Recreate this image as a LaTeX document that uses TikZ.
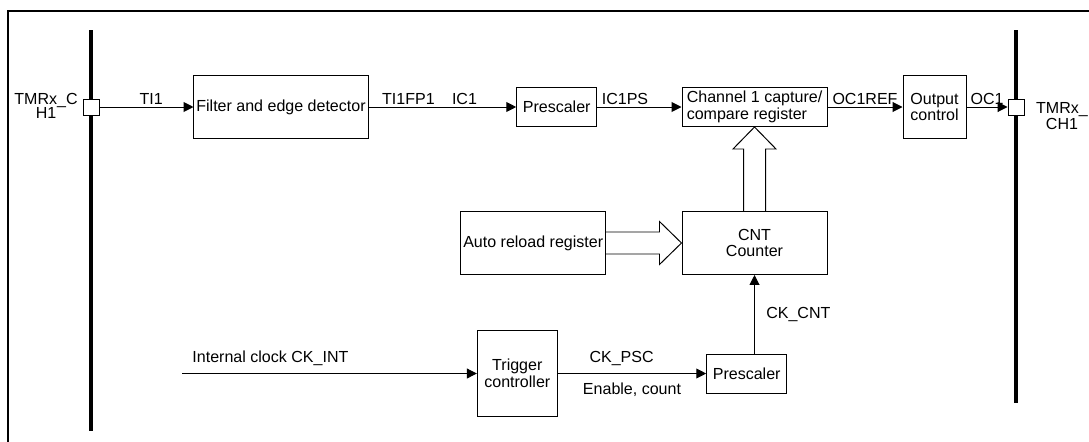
\documentclass[tikz,border=0pt]{standalone}
\usepackage{fontspec}
\setmainfont{Liberation Sans}
\usetikzlibrary{arrows.meta,positioning,calc}

\begin{document}
\begin{tikzpicture}[x=0.025cm,y=-0.025cm,>={Triangle[length=7pt,width=7pt]},
   line width=0.7pt,font=\fontsize{11.4}{12}\selectfont,
   blk/.style={draw,inner sep=1pt,align=center},
   pin/.style={draw,fill=white,minimum size=0.4cm,inner sep=0pt},
   lbl/.style={inner sep=1.5pt},
   bar/.style={line width=2.2pt},
   fat/.style={draw,line join=miter}]
  \useasboundingbox (0,0) rectangle (1089,441);
  \draw[line width=1.1pt] (8,11) rectangle (1110,470);
  % pins
  \draw[bar] (91,30) -- (91,431);
  \draw[bar] (1016,30) -- (1016,403);
  \node[pin] (pinL) at (91,107) {};
  \node[pin] (pinR) at (1016,107) {};
  \node[align=center] (pinLtxt) at (46,106) {TMRx\_C\\[-2pt]H1};
  \node[align=center] (pinRtxt) at (1062,116) {TMRx\_\\CH1};
  % upper path
  \node[blk,minimum width=4.35cm,minimum height=1.575cm] (filt) at (281,107) {Filter and edge detector};
  \node[blk,minimum width=2cm,minimum height=0.975cm] (psc1) at (556.7,107) {Prescaler};
  \node[blk,minimum width=3.625cm,minimum height=0.975cm,align=left] (ccr) at (754.5,107) {Channel 1 capture/\\compare register};
  \node[blk,minimum width=1.575cm,minimum height=1.565cm] (outc) at (934.5,107) {Output\\control};
  \draw[->] (pinL) -- (filt) node[lbl,pos=0.55,above]{TI1};
  \draw[->] (filt) -- (psc1) node[lbl,pos=0.27,above]{TI1FP1} node[lbl,pos=0.65,above]{IC1};
  \draw[->] (psc1) -- (ccr) node[lbl,pos=0.33,above]{IC1PS};
  \draw[->] (ccr) -- (outc) node[lbl,midway,above]{OC1REF};
  \draw[->] (outc) -- (pinR) node[lbl,midway,above]{OC1};
  % counter
  \node[blk,minimum width=3.625cm,minimum height=1.575cm] (arr) at (533.2,243) {Auto reload register};
  \node[blk,minimum width=3.625cm,minimum height=1.575cm] (cnt) at (754.5,243) {CNT\\Counter};
  \draw[fat] ($(cnt.north)+(-11,0)$) -- ($(ccr.south)+(-11,22)$) -- ($(ccr.south)+(-21.5,22)$)
    -- (ccr.south) -- ($(ccr.south)+(21.5,22)$) -- ($(ccr.south)+(11,22)$) -- ($(cnt.north)+(11,0)$);
  \draw[fat] ($(arr.east)+(0,-11)$) -- ($(cnt.west)+(-22,-11)$) -- ($(cnt.west)+(-22,-21.5)$)
    -- (cnt.west) -- ($(cnt.west)+(-22,21.5)$) -- ($(cnt.west)+(-22,11)$) -- ($(arr.east)+(0,11)$);
  % clock
  \coordinate (clk) at (182,373.5);
  \node[blk,minimum width=2cm,minimum height=2.15cm] (trg) at (517.3,373.5) {Trigger\\controller};
  \node[blk,minimum width=2cm,minimum height=0.975cm] (psc2) at (746.7,373.5) {Prescaler};
  \draw[->] (clk) -- (trg) node[lbl,pos=0.3,above=4pt]{Internal clock CK\_INT};
  \draw[->] (trg) -- (psc2) node[lbl,pos=0.43,above=3.8pt]{CK\_PSC}
    node[lbl,midway,below=5pt]{Enable, count};
  \draw[->] (cnt.south |- psc2.north) -- (cnt.south) node[lbl,midway,right=6.5pt]{CK\_CNT};
\end{tikzpicture}
\end{document}
